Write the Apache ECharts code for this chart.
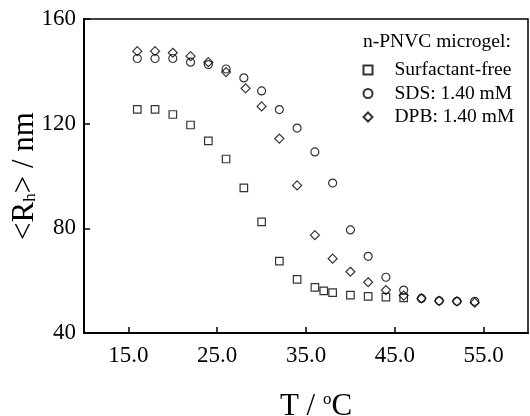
<!DOCTYPE html>
<html>
<head>
<meta charset="utf-8">
<script src="https://cdn.jsdelivr.net/npm/echarts@6/dist/echarts.min.js"></script>
<style>
  html, body { margin: 0; padding: 0; background: #fff; }
  #chart { width: 530px; height: 416px; }
</style>
</head>
<body>
<div id="chart"></div>
<script>
// temperature (°C) and hydrodynamic radius (nm)
const tFree = [16, 18, 20, 22, 24, 26, 28, 30, 32, 34, 36, 37, 38, 40, 42, 44, 46]
const rFree = [125.5, 125.5, 123.5, 119.5, 113.4, 106.5, 95.5, 82.5, 67.5, 60.5, 57.4, 56.1, 55.4, 54.5, 54.0, 53.7, 53.4]

const tSds = [16, 18, 20, 22, 24, 26, 28, 30, 32, 34, 36, 38, 40, 42, 44, 46, 48, 50, 52, 54]
const rSds = [144.9, 144.9, 144.9, 143.5, 142.6, 140.9, 137.5, 132.5, 125.4, 118.3, 109.2, 97.3, 79.4, 69.3, 61.3, 56.4, 53.2, 52.3, 52.1, 52.1]

const tDpb = [16, 18, 20, 22, 24, 26, 28.2, 30, 32, 34, 36, 38, 40, 42, 44, 46, 48, 50, 52, 54]
const rDpb = [147.7, 147.7, 147.1, 145.8, 143.5, 139.7, 133.5, 126.6, 114.3, 96.4, 77.4, 68.4, 63.4, 59.4, 56.4, 54.3, 53.2, 52.3, 52.1, 51.6]

const xTicks = [15, 25, 35, 45, 55]
const seriesNames = ['Surfactant-free', 'SDS: 1.40 mM', 'DPB: 1.40 mM']

const font = 'Liberation Serif'
const pair = (xs, ys) => xs.map((x, i) => [x, ys[i]])

const chart = echarts.init(document.getElementById('chart'))
window.addEventListener('resize', () => {
  chart.resize()
})

const markStyle = {
  color: 'transparent',
  borderColor: '#000',
  borderWidth: 1.2,
}

const option = {
  animation: false,
  backgroundColor: '#fff',
  title: {
    text: 'n-PNVC microgel:',
    left: 358,
    top: 27,
    textStyle: { fontFamily: font, fontSize: 19.5, fontWeight: 'normal', color: '#000' },
  },
  legend: {
    orient: 'vertical',
    left: 357.5,
    top: 55,
    itemWidth: 9,
    itemHeight: 9,
    itemGap: 3.5,
    data: seriesNames,
    textStyle: { fontFamily: font, fontSize: 19.5, color: '#000', lineHeight: 20, padding: [0, 0, 0, 17] },
  },
  grid: {
    left: 84,
    right: 2,
    top: 19,
    bottom: 83,
    outerBoundsMode: 'none',
    show: true,
    borderColor: '#000',
    borderWidth: 1.5,
  },
  xAxis: {
    type: 'value',
    min: 10,
    max: 60,
    name: '{t|T / }{s|o}{t|C}',
    nameLocation: 'middle',
    nameGap: 58,
    nameMoveOverlap: false,
    nameTextStyle: {
      padding: [0, 0, 0, 20],
      rich: {
        t: { fontFamily: font, fontSize: 31, color: '#000', lineHeight: 32, verticalAlign: 'top' },
        s: { fontFamily: font, fontSize: 17, color: '#000', lineHeight: 20, verticalAlign: 'top' },
      },
    },
    axisLine: { lineStyle: { color: '#000', width: 2 } },
    axisTick: { inside: true, length: 6, customValues: xTicks, lineStyle: { color: '#000', width: 1.5 } },
    axisLabel: {
      customValues: xTicks,
      formatter: v => v.toFixed(1),
      margin: 11,
      fontFamily: font,
      fontSize: 23,
      color: '#000',
    },
    splitLine: { show: false },
  },
  yAxis: {
    type: 'value',
    min: 40,
    max: 160,
    interval: 40,
    name: '{a|<R}{b|h}{a|> / nm}',
    nameLocation: 'middle',
    nameRotate: 90,
    nameGap: 45,
    nameMoveOverlap: false,
    nameTextStyle: {
      rich: {
        a: { fontFamily: font, fontSize: 31, color: '#000', lineHeight: 30, verticalAlign: 'top' },
        b: { fontFamily: font, fontSize: 17, color: '#000', lineHeight: 17, verticalAlign: 'bottom', padding: [20, 0, 0, 0] },
      },
    },
    axisLine: { lineStyle: { color: '#000', width: 2 } },
    axisTick: { inside: true, length: 6, lineStyle: { color: '#000', width: 1.5 } },
    axisLabel: { margin: 8, fontFamily: font, fontSize: 23, color: '#000' },
    splitLine: { show: false },
  },
  series: [
    {
      name: seriesNames[0],
      type: 'scatter',
      symbol: 'rect',
      symbolSize: 7.5,
      itemStyle: markStyle,
      data: pair(tFree, rFree),
    },
    {
      name: seriesNames[1],
      type: 'scatter',
      symbol: 'circle',
      symbolSize: 8,
      itemStyle: markStyle,
      data: pair(tSds, rSds),
    },
    {
      name: seriesNames[2],
      type: 'scatter',
      symbol: 'diamond',
      symbolSize: 9,
      itemStyle: markStyle,
      data: pair(tDpb, rDpb),
    },
  ],
}

chart.setOption(option, true)
</script>
</body>
</html>
